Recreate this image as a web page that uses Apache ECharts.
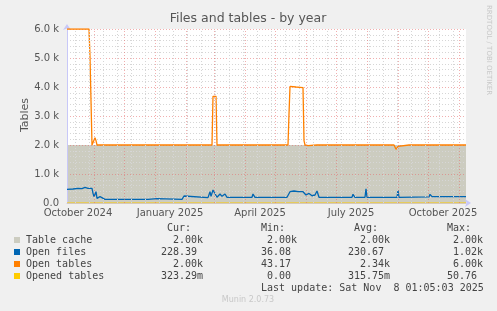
<!DOCTYPE html>
<html>
<head>
<meta charset="utf-8">
<script src="https://cdn.jsdelivr.net/npm/echarts@6/dist/echarts.min.js"></script>
<style>
html,body{margin:0;padding:0;background:#f0f0f0;}
#c{width:497px;height:311px;}
</style>
</head>
<body>
<div id="c"></div>
<script>
// ---- data ----
var xMin = '2024-10-05';
var xMax = '2025-11-08';
var labelDates = ['2024-10-16', '2025-01-16', '2025-04-16', '2025-07-16', '2025-10-16'];
var monthNames = ['January','February','March','April','May','June','July','August','September','October','November','December'];
var monthStarts = ['2024-11-01','2024-12-01','2025-01-01','2025-02-01','2025-03-01','2025-04-01','2025-05-01','2025-06-01','2025-07-01','2025-08-01','2025-09-01','2025-10-01','2025-11-01'];

var tableCache = [['2024-10-05', 2000], ['2025-11-08', 2000]];

var openFiles = [
  ['2024-10-05', 472], ['2024-10-11', 483], ['2024-10-16', 506], ['2024-10-20', 495], ['2024-10-23', 540],
  ['2024-10-26', 506], ['2024-10-30', 506], ['2024-10-31', 333], ['2024-11-01', 218], ['2024-11-03', 390],
  ['2024-11-04', 160], ['2024-11-05', 138], ['2024-11-07', 218], ['2024-11-09', 184], ['2024-11-12', 126],
  ['2024-12-22', 126], ['2024-12-23', 150], ['2024-12-25', 126], ['2025-01-03', 150], ['2025-01-04', 126],
  ['2025-01-28', 126], ['2025-01-30', 241], ['2025-02-01', 184], ['2025-02-23', 184], ['2025-02-25', 390],
  ['2025-02-26', 230], ['2025-02-28', 448], ['2025-03-02', 483], ['2025-03-04', 200], ['2025-03-07', 310],
  ['2025-03-09', 230], ['2025-03-12', 310], ['2025-03-14', 197], ['2025-04-08', 197], ['2025-04-09', 310],
  ['2025-04-11', 197], ['2025-05-13', 197], ['2025-05-16', 390], ['2025-05-20', 414], ['2025-05-24', 390],
  ['2025-05-26', 448], ['2025-05-29', 390], ['2025-06-01', 276], ['2025-06-04', 330], ['2025-06-07', 250],
  ['2025-06-10', 276], ['2025-06-12', 414], ['2025-06-14', 197], ['2025-07-17', 197], ['2025-07-18', 299],
  ['2025-07-20', 197], ['2025-07-30', 197], ['2025-07-31', 490], ['2025-08-01', 197], ['2025-08-31', 197],
  ['2025-09-01', 448], ['2025-09-02', 197], ['2025-10-02', 210], ['2025-10-03', 299], ['2025-10-05', 220],
  ['2025-11-08', 218]
];

var openTables = [
  ['2024-10-05', 6000], ['2024-10-27', 6000], ['2024-10-28', 5050], ['2024-10-29', 5000], ['2024-10-30', 2000],
  ['2024-11-01', 2000], ['2024-11-02', 2250], ['2024-11-03', 2150], ['2024-11-04', 2000], ['2025-02-23', 2000],
  ['2025-02-24', 1950], ['2025-02-25', 2000], ['2025-02-27', 2000], ['2025-02-28', 3680], ['2025-03-03', 3680],
  ['2025-03-04', 2000], ['2025-03-07', 2000], ['2025-03-08', 1975], ['2025-03-09', 2000], ['2025-04-09', 2000],
  ['2025-04-10', 1975], ['2025-04-11', 2000], ['2025-05-14', 2000], ['2025-05-15', 3070], ['2025-05-16', 4020],
  ['2025-05-22', 4000], ['2025-05-24', 4020], ['2025-05-26', 3990], ['2025-05-29', 3980], ['2025-05-30', 2150],
  ['2025-05-31', 2000], ['2025-06-02', 2000], ['2025-06-03', 1975], ['2025-06-04', 2000], ['2025-06-12', 2000],
  ['2025-06-13', 1975], ['2025-06-14', 2000], ['2025-07-18', 2000], ['2025-07-19', 1975], ['2025-07-20', 2000],
  ['2025-07-30', 2000], ['2025-07-31', 1975], ['2025-08-01', 2000], ['2025-08-28', 2000], ['2025-08-30', 1850],
  ['2025-09-01', 1950], ['2025-09-02', 2000], ['2025-09-12', 2000], ['2025-09-13', 1975], ['2025-09-14', 2000],
  ['2025-10-02', 2000], ['2025-10-03', 1975], ['2025-10-04', 2000], ['2025-11-08', 2000]
];

var openedTables = [['2024-10-05', 0.3], ['2025-11-08', 0.32]];

var legendNames = ['Table cache', 'Open files', 'Open tables', 'Opened tables'];
var legendColors = ['#ccccc0', '#0066b3', '#ff8000', '#ffcc00'];
var curVals = ['  2.00k', '228.39 ', '  2.00k', '323.29m'];
var minVals = ['  2.00k', ' 36.08 ', ' 43.17 ', '  0.00 '];
var avgVals = ['  2.00k', '230.67 ', '  2.34k', '315.75m'];
var maxVals = ['  2.00k', '  1.02k', '  6.00k', ' 50.76 '];
var lastUpdate = 'Last update: Sat Nov  8 01:05:03 2025';

// ---- chart ----
function toTs(s) { return +new Date(s + 'T00:00:00'); }
function conv(arr) { return arr.map(function (p) { return [toTs(p[0]), p[1]]; }); }
var biweekly = [];
for (var t = toTs('2024-10-13'); t <= toTs(xMax); t += 14 * 86400000) biweekly.push(t);

var chart = echarts.init(document.getElementById('c'), null, {renderer: 'canvas'});
var mono = 'DejaVu Sans Mono';
var txtColor = '#444';
var graphics = [
  {type: 'text', x: 248, y: 19, style: {text: 'Files and tables - by year', font: '12.5px "DejaVu Sans"', fill: '#555', textAlign: 'center', textVerticalAlign: 'middle'}},
  {type: 'text', x: 492, y: 5, rotation: -Math.PI / 2, style: {text: 'RRDTOOL / TOBI OETIKER', font: '7px "DejaVu Sans"', fill: '#c8c8c8'}},
  {type: 'text', x: 25, y: 115, rotation: Math.PI / 2, style: {text: 'Tables', font: '11px "DejaVu Sans"', fill: '#555', textAlign: 'center', textVerticalAlign: 'middle'}},
  {type: 'text', x: 248, y: 300, style: {text: 'Munin 2.0.73', font: '8px "DejaVu Sans"', fill: '#c8c8c8', textAlign: 'center', textVerticalAlign: 'middle'}}
];
var headers = [['Cur:', 167], ['Min:', 261], ['Avg:', 354], ['Max:', 447]];
headers.forEach(function (h) {
  graphics.push({type: 'text', x: h[1], y: 228, style: {text: h[0], font: '10px "' + mono + '"', fill: txtColor, textVerticalAlign: 'middle'}});
});
var rowY = [240, 252, 264, 276];
legendNames.forEach(function (n, i) {
  graphics.push({type: 'rect', shape: {x: 14, y: rowY[i] - 3, width: 6, height: 6}, style: {fill: legendColors[i]}});
  graphics.push({type: 'text', x: 26, y: rowY[i], style: {text: n, font: '10px "' + mono + '"', fill: txtColor, textVerticalAlign: 'middle'}});
  graphics.push({type: 'text', x: 161, y: rowY[i], style: {text: curVals[i], font: '10px "' + mono + '"', fill: txtColor, textVerticalAlign: 'middle'}});
  graphics.push({type: 'text', x: 255, y: rowY[i], style: {text: minVals[i], font: '10px "' + mono + '"', fill: txtColor, textVerticalAlign: 'middle'}});
  graphics.push({type: 'text', x: 348, y: rowY[i], style: {text: avgVals[i], font: '10px "' + mono + '"', fill: txtColor, textVerticalAlign: 'middle'}});
  graphics.push({type: 'text', x: 441, y: rowY[i], style: {text: maxVals[i], font: '10px "' + mono + '"', fill: txtColor, textVerticalAlign: 'middle'}});
});
graphics.push({type: 'text', x: 261, y: 288, style: {text: lastUpdate, font: '10px "' + mono + '"', fill: txtColor, textVerticalAlign: 'middle'}});

var redDot = {color: 'rgba(230,110,110,0.55)', type: [1, 2], width: 1};
var greyDot = {color: '#d6d6d6', type: [1, 2], width: 1};

chart.setOption({
  animation: false,
  backgroundColor: '#f0f0f0',
  textStyle: {fontFamily: 'DejaVu Sans'},
  grid: {left: 67, right: 31, top: 29, bottom: 108, show: true, backgroundColor: '#ffffff', borderWidth: 0},
  xAxis: {
    type: 'value', min: toTs(xMin), max: toTs(xMax), z: 2,
    axisLine: {show: true, lineStyle: {color: '#c8c8f8', width: 1}, symbol: ['none', 'arrow'], symbolSize: [6, 6], symbolOffset: [0, 5]},
    axisTick: {show: false},
    splitLine: {show: false},
    axisLabel: {
      customValues: labelDates.map(toTs),
      formatter: function (v) { var d = new Date(v); return monthNames[d.getMonth()] + ' ' + d.getFullYear(); },
      color: '#555', fontSize: 10, margin: 5, hideOverlap: false
    }
  },
  yAxis: {
    type: 'value', min: 0, max: 6000, interval: 1000, z: 2,
    axisLine: {show: true, lineStyle: {color: '#c8c8f8', width: 1}, symbol: ['none', 'arrow'], symbolSize: [6, 6], symbolOffset: [0, 5]},
    axisTick: {show: false},
    axisLabel: {formatter: function (v) { return v === 0 ? '0.0' : (v / 1000).toFixed(1) + ' k'; }, color: '#555', fontSize: 10, margin: 8},
    splitLine: {show: true, lineStyle: redDot},
    minorTick: {show: false, splitNumber: 5},
    minorSplitLine: {show: true, lineStyle: greyDot}
  },
  series: [
    {name: 'Table cache', type: 'line', z: 1, data: conv(tableCache), symbol: 'none', lineStyle: {width: 0}, areaStyle: {color: legendColors[0], opacity: 1}},
    {name: 'grid', type: 'line', z: 2, data: [], symbol: 'none', silent: true,
      markLine: {silent: true, symbol: ['none', 'none'], label: {show: false}, animation: false,
        data: biweekly.map(function (t) { return {xAxis: t, lineStyle: greyDot}; })
          .concat(monthStarts.map(function (s) { return {xAxis: toTs(s), lineStyle: redDot}; }))}},
    {name: 'Open files', type: 'line', z: 3, data: conv(openFiles), symbol: 'none', lineStyle: {color: legendColors[1], width: 1.3}},
    {name: 'Open tables', type: 'line', z: 3, data: conv(openTables), symbol: 'none', lineStyle: {color: legendColors[2], width: 1.3}},
    {name: 'Opened tables', type: 'line', z: 3, data: conv(openedTables), symbol: 'none', lineStyle: {color: legendColors[3], width: 1}}
  ],
  graphic: graphics
});
</script>
</body>
</html>
